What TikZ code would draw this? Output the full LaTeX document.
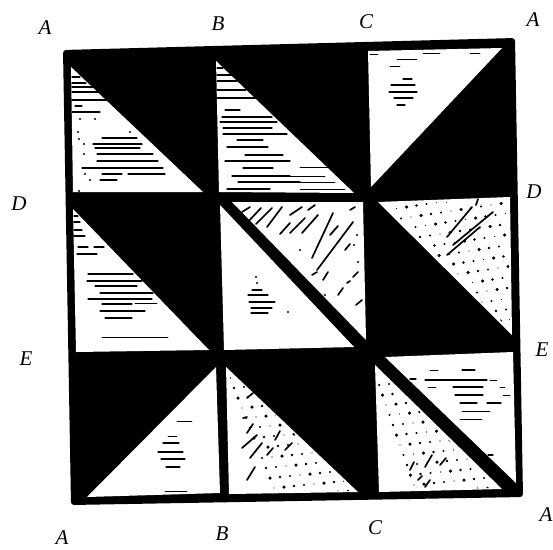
\documentclass[tikz,border=0pt]{standalone}
\usepackage{fontspec}
\setmainfont{Liberation Serif}
\tikzset{
  panel/.style={fill=white,draw=none},
  hatchmark/.style={draw=black,line width=1.3pt,line cap=round},
  thinmark/.style={draw=black,line width=0.6pt,line cap=round},
  strokemark/.style={draw=black,line width=1.7pt,line cap=round},
  dotmark/.style={fill=black,draw=none},
  lab/.style={font=\fontsize{21}{23}\selectfont\itshape,inner sep=0pt,text=black}
}
\newcommand{\hatchrows}[1]{\foreach \a/\b/\c in {#1} {\draw[hatchmark] (\a,\c) -- (\b,\c);}}
\newcommand{\thinrows}[1]{\foreach \a/\b/\c in {#1} {\draw[thinmark] (\a,\c) -- (\b,\c);}}
\newcommand{\strokes}[1]{\foreach \a/\b/\c/\d in {#1} {\draw[strokemark] (\a,\b) -- (\c,\d);}}
\newcommand{\dotlist}[1]{\foreach \a/\b in {#1} {\fill[dotmark] (\a,\b) circle (1.1pt);}}
% stipple: clip triangle, origin x, origin y
\newcommand{\stipple}[6]{%
  \begin{scope}
  \clip #1;
  \foreach \i in {0,...,#2} \foreach \j in {0,...,#2} {
    \pgfmathsetmacro{\px}{#3+\i*10+\j*#5}
    \pgfmathsetmacro{\py}{#4+\j*10-\i*#6}
    \pgfmathsetmacro{\pr}{0.7+0.35*mod(\i*3+\j*5,4)}
    \fill[dotmark] (\px,\py) circle (\pr pt);
  }
  \end{scope}}
\begin{document}
\begin{tikzpicture}[x=1pt,y=-1pt]
\useasboundingbox (0,0) rectangle (553,549);
\fill[white] (0,0) rectangle (553,549);
% frame and black ground
\fill[black,rounded corners=3pt] (63,50) -- (515,38) -- (523,497) -- (71,505) -- cycle;
% white triangles
\fill[panel] (71,67) -- (203,192) -- (73,192) -- cycle;
\fill[panel] (216,61) -- (354,193) -- (219,192) -- cycle;
\fill[panel] (368,51) -- (502,48) -- (371,187) -- cycle;
\fill[panel] (73,209) -- (209,350) -- (76,352) -- cycle;
\fill[panel] (220,205) -- (354,347) -- (224,350) -- cycle;
\fill[panel] (232,202) -- (363,202) -- (366,340) -- cycle;
\fill[panel] (378,202) -- (510,197) -- (512,335) -- cycle;
\fill[panel] (216,367) -- (220,493) -- (87,497) -- cycle;
\fill[panel] (226,367) -- (358,492) -- (229,494) -- cycle;
\fill[panel] (385,357) -- (513,352) -- (516,483) -- cycle;
\fill[panel] (375,365) -- (502,489) -- (379,492) -- cycle;
% top-left triangle rows
\hatchrows{72/80/77,72/86/83,72/93/87,72/102/92,72/107/100,75/82/106,72/100/112,102/137/138,93/142/144,95/140/148,97/153/154,97/158/161,82/163/168,102/122/174,128/165/174,100/117/180}
\dotlist{80/119,95/119,78/132,79/139,130/132,84/144,84/154,85/174,90/180,79/191}
% top-middle triangle rows
\hatchrows{217/223/68,217/233/75,217/237/81,217/246/90,217/255/98,225/240/110,222/272/117,220/277/122,223/272/128,223/287/134,237/263/140,227/268/147,245/283/155,225/290/161,243/273/168,232/290/176,238/300/182,227/270/189}
\thinrows{300/330/167,290/325/176,300/335/182,300/345/189}
% top-right triangle rows
\hatchrows{391/415/85,389/417/92,394/413/98,397/405/105,403/412/79}
\thinrows{390/400/66,397/417/59,423/440/53,370/378/54,470/480/53}
% middle-left triangle rows
\hatchrows{74/78/216,74/80/222,74/82/230,74/85/236,78/88/247,94/104/247,77/97/254,88/133/274,87/142/281,95/137/286,100/153/293,88/152/299,102/132/304,100/145/311,105/132/318}
\thinrows{135/157/303,102/168/337}
% centre lower-left triangle rows
\hatchrows{248/268/295,249/275/302,251/272/308,251/268/313,252/262/290}
\dotlist{256/277,257/283,260/290,288/312}
% centre upper-right strokes
\strokes{242/212/250/207,245/225/261/208,256/224/272/208,267/227/282/207,280/234/290/223,290/233/305/218,302/233/318/215,312/258/333/213,317/270/353/222,290/215/302/207,350/210/355/207,308/210/315/205,312/275/317/272,323/280/328/272,338/295/343/288,347/283/350/281,356/305/362/300,353/277/358/272,330/235/338/226,345/250/350/244}
\dotlist{357/235,354/245,358/262,325/295,300/250}
% middle-right stipple and strokes
\stipple{(384,204) -- (508,200) -- (510,330) -- cycle}{14}{382}{200}{4.5}{1.5}
\strokes{447/237/472/207,453/245/493/212,447/255/480/227,476/205/478/199}
% bottom-left triangle rows
\hatchrows{163/179/443,158/183/452,161/185/459,166/180/467}
\thinrows{168/177/436,165/187/491,177/192/421}
% bottom-middle stipple and strokes
\stipple{(230,372) -- (354,491) -- (231,492) -- cycle}{15}{226}{368}{4}{1}
\strokes{247/398/253/393,243/418/247/417,247/433/253/424,242/448/257/435,250/458/262/443,247/480/255/467,267/455/273/448,275/440/280/431,285/450/292/443}
% bottom-right upper rows
\hatchrows{425/487/380,453/483/387,455/483/395,460/477/403,487/501/403,462/475/370,410/416/379,488/493/455}
\thinrows{462/490/411,460/482/419,430/438/370,490/497/380,500/505/387,428/436/387,503/510/395}
% bottom-right lower stipple and strokes
\stipple{(378,370) -- (497,488) -- (381,490) -- cycle}{16}{372}{365}{3.5}{1}
\strokes{418/480/422/476,425/487/430/480,425/467/432/455,410/470/414/462,440/465/446/458}
% labels
\node[lab] (a1) at (45,28) {A};
\node[lab] (b1) at (218,24) {B};
\node[lab] (c1) at (366,22) {C};
\node[lab] (a2) at (533,20) {A};
\node[lab] (d1) at (19,204) {D};
\node[lab] (d2) at (534,192) {D};
\node[lab] (e1) at (26,359) {E};
\node[lab] (e2) at (542,350) {E};
\node[lab] (a3) at (62,538) {A};
\node[lab] (b2) at (222,534) {B};
\node[lab] (c2) at (375,528) {C};
\node[lab] (a4) at (546,515) {A};
\end{tikzpicture}
\end{document}
